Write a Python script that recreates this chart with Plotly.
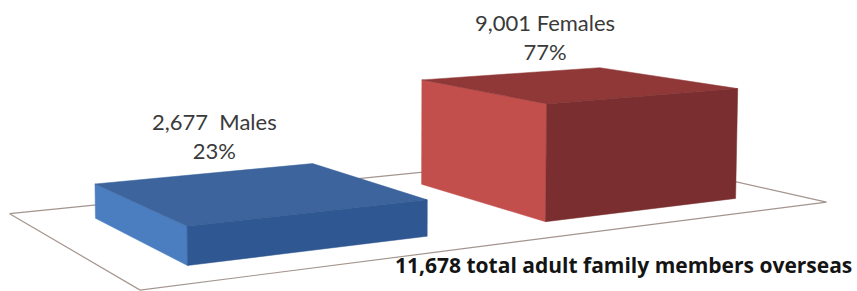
import numpy as np
import plotly.graph_objects as go

# ---- data ----
categories = ["Males", "Females"]
counts = [2677, 9001]
label_sep = ["\u00a0 ", " "]
total_caption = "total adult family members overseas"

# ---- styles ----
face_colors = [
    {"side": "#4A7EC1", "top": "#3D649C", "front": "#2F5791"},
    {"side": "#C34F4C", "top": "#903838", "front": "#7A2E2F"},
]
floor_color = "#A3958D"
label_color = "#3A3A3A"
label_nudge_x = [7, 31]   # pixel nudges of the data labels
label_lift = 37

# ---- 3D view (camera projection matrix, world -> page pixels) ----
CAM = np.array([
    [3.67429019e+02, 1.03264838e+02, -2.22408252e+00, 9.61839272e+00],
    [-1.32682218e+01, 2.01790579e+01, -1.14708884e+02, 2.13650853e+02],
    [1.09870149e-01, -1.94061787e-01, -6.01308314e-03, 1.00000000e+00],
])
BAR_W = 0.6423
DEPTH0, DEPTH1 = 0.1806, 0.8293


def project(pts):
    pts = np.asarray(pts, float)
    h = np.c_[pts, np.ones(len(pts))] @ CAM.T
    return h[:, 0] / h[:, 2], h[:, 1] / h[:, 2]


vmax = max(counts)
total = sum(counts)
fig = go.Figure()

# floor outline
n = len(categories)
fx, fy = project([(0, 0, 0), (n, 0, 0), (n, 1, 0), (0, 1, 0), (0, 0, 0)])
fig.add_trace(go.Scatter(x=fx, y=fy, mode="lines",
                         line=dict(color=floor_color, width=1.2),
                         hoverinfo="skip", showlegend=False))

for i, (cat, v) in enumerate(zip(categories, counts)):
    h = v / vmax
    a, b = i + 0.5 - BAR_W / 2, i + 0.5 + BAR_W / 2
    faces = {
        "side": [(a, DEPTH0, 0), (a, DEPTH1, 0), (a, DEPTH1, h), (a, DEPTH0, h)],
        "top": [(a, DEPTH0, h), (b, DEPTH0, h), (b, DEPTH1, h), (a, DEPTH1, h)],
        "front": [(a, DEPTH1, 0), (b, DEPTH1, 0), (b, DEPTH1, h), (a, DEPTH1, h)],
    }
    for name in ["side", "top", "front"]:
        px, py = project(faces[name] + [faces[name][0]])
        c = face_colors[i][name]
        fig.add_trace(go.Scatter(x=px, y=py, mode="lines", fill="toself",
                                 fillcolor=c, line=dict(color=c, width=0.5),
                                 hoverinfo="skip", showlegend=False))
    # data label above the back edge of the bar top
    cx, cy = project([(i + 0.5, DEPTH0, h)])
    pct = round(100 * v / total)
    fig.add_annotation(x=cx[0] + label_nudge_x[i], y=cy[0] - label_lift,
                       text=f"{v:,}{label_sep[i]}{cat}<br>{pct}%",
                       showarrow=False, xanchor="center", yanchor="middle",
                       font=dict(family="Lato", size=22, color=label_color))

fig.add_annotation(x=854, y=265, text=f"<b>{total:,} {total_caption}</b>",
                   showarrow=False, xanchor="right", yanchor="middle",
                   font=dict(family="Open Sans", size=21, color="#141414"))

fig.update_xaxes(range=[0, 857], visible=False, fixedrange=True)
fig.update_yaxes(range=[291, 0], visible=False, fixedrange=True)
fig.update_layout(width=857, height=291, margin=dict(l=0, r=0, t=0, b=0),
                  plot_bgcolor="white", paper_bgcolor="white")
fig.write_html("out.html", config={"displayModeBar": False},
               post_script="document.body.style.margin='0px';document.body.style.overflow='hidden';")
